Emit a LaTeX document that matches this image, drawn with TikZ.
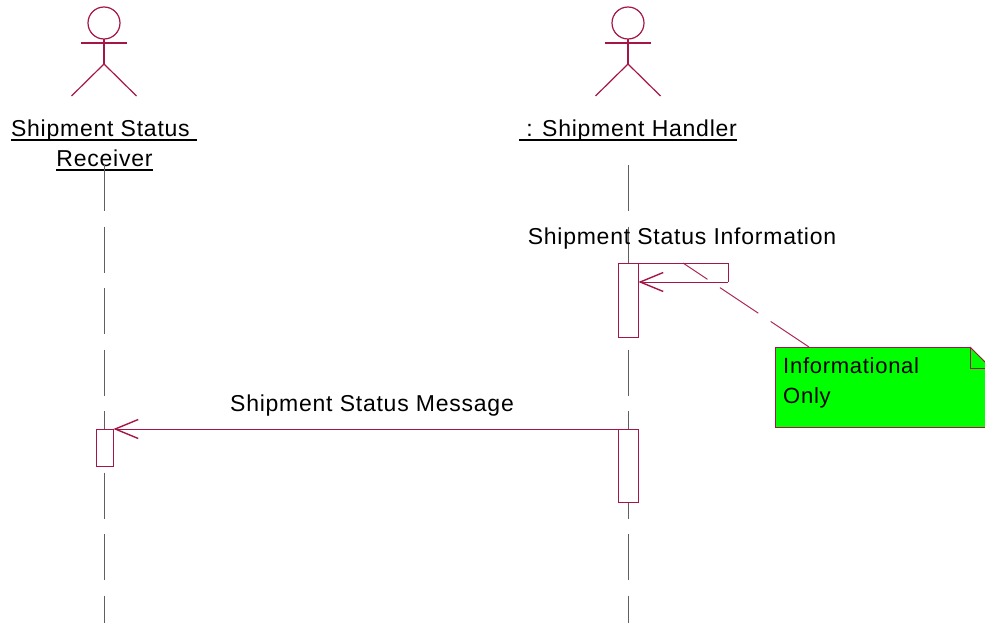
\documentclass[tikz,border=0pt]{standalone}
\usepackage{fontspec}
\setmainfont{Liberation Sans}[LetterSpace=3.3]
\usetikzlibrary{arrows.meta}
\definecolor{umlred}{RGB}{165,22,72}
\definecolor{lifegray}{RGB}{95,95,95}
\definecolor{notegreen}{RGB}{0,255,0}
\begin{document}
\begin{tikzpicture}[x=1pt,y=-1pt,
  lbl/.style={font=\fontsize{23}{29}\selectfont, inner sep=0pt, anchor=base},
  notelbl/.style={font=\fontsize{22}{28}\selectfont, inner sep=0pt, anchor=base west},
  actorline/.style={draw=umlred, line width=1.2pt},
  lifeline/.style={draw=lifegray, line width=1pt, dash pattern=on 46pt off 15.5pt},
  actbox/.style={draw=umlred, line width=0.8pt, fill=white, inner sep=0pt, anchor=north},
  msg/.style={draw=umlred, line width=0.8pt, -{Straight Barb[length=23pt,width=19pt,line width=1.4pt]}},
  ulin/.style={draw=black, line width=1.5pt},
  anchorline/.style={draw=umlred, line width=0.9pt, dash pattern=on 46pt off 15pt}]
\useasboundingbox (0,0) rectangle (985,623);
\clip (0,0) rectangle (985,623);

% actors
\coordinate (A) at (104,0);
\coordinate (B) at (628,0);
\foreach \c in {A,B}{
  \draw[actorline] ([yshift=-23pt]\c) circle[radius=16pt];
  \draw[actorline] ([shift={(-23pt,-43pt)}]\c) -- ([shift={(23pt,-43pt)}]\c);
  \draw[actorline] ([yshift=-39pt]\c) -- ([yshift=-64pt]\c);
  \draw[actorline] ([shift={(-32.5pt,-96pt)}]\c) -- ([yshift=-64pt]\c) -- ([shift={(32.5pt,-96pt)}]\c);
}

% actor labels
\node[lbl] (rcv1) at (104,137) {\hbox{Shipment Status\ }};
\node[lbl] (rcv2) at (104.5,167) {Receiver};
\node[lbl] (hdl) at (628,137) {\hbox{\ : Shipment Handler}};
\foreach \n in {rcv1,rcv2,hdl}{
  \draw[ulin] ([yshift=-3pt]\n.base west) -- ([yshift=-3pt]\n.base east);
}

% lifelines
\coordinate (Atop) at (104,165);
\coordinate (Abot) at (104,630);
\coordinate (Btop) at (628,165);
\coordinate (Bbot) at (628,630);
\draw[lifeline] (Atop) -- (Abot);
\draw[lifeline] (Btop) -- (Bbot);

% activation boxes
\node[actbox, minimum width=20pt, minimum height=74pt] (act1) at (628,263) {};
\node[actbox, minimum width=20pt, minimum height=73pt] (act2) at (628,429) {};
\node[actbox, minimum width=17pt, minimum height=37pt] (act3) at (104.5,429) {};

% self message
\coordinate (selfTR) at (728,263);
\coordinate (selfBR) at (728,282);
\draw[umlred, line width=0.8pt] (act1.north east) -- (selfTR) -- (selfBR);
\draw[msg] (selfBR) -- (act1.east |- selfBR);
\node[lbl] (m1) at (682,244) {Shipment Status Information};

% message
\draw[msg] (act2.north west) -- (act3.north east);
\node[lbl] (m2) at (372,411) {Shipment Status Message};

% note
\node[draw=umlred, fill=notegreen, line width=1pt, minimum width=216pt, minimum height=80pt, anchor=north west, inner sep=0pt] (note) at (775,347) {};
\fill[white] (970,346.5) -- (992,346.5) -- (992,368) -- cycle;
\draw[umlred, line width=1pt] (970,347) -- (991,368);
\draw[umlred, line width=1pt] (970,347) -- (970,368) -- (991,368);
\node[notelbl] (n1) at (783,373) {Informational};
\node[notelbl] (n2) at (783,403) {Only};

% note anchor
\coordinate (noteA) at (809,347);
\coordinate (selfTop) at (683,263);
\draw[anchorline] (noteA) -- (selfTop);
\end{tikzpicture}
\end{document}
